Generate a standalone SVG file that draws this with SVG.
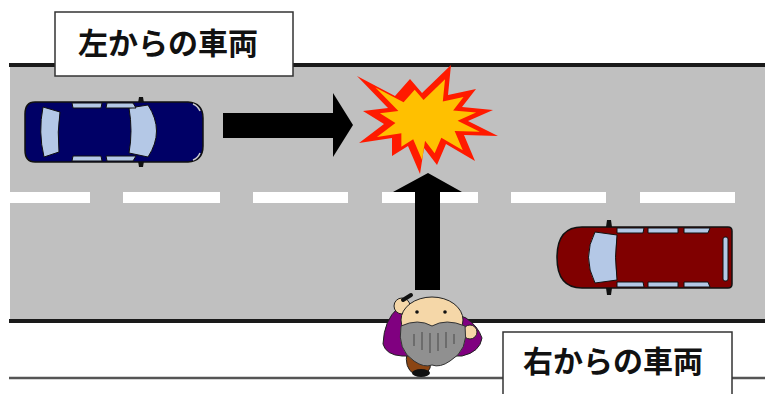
<svg xmlns="http://www.w3.org/2000/svg" width="765" height="394" viewBox="0 0 765 394">
<style>
.label rect{fill:#fff;stroke:#333;stroke-width:1.5}
.label text{font-family:"Noto Sans CJK JP","Noto Sans CJK SC",sans-serif;font-size:30px;fill:#111;font-weight:600}
.win{fill:#b4c8e6;stroke:#111;stroke-width:1}
.edge{stroke:#111;stroke-width:1.5}
.arrow{fill:#000}
.dash{fill:#fff}
</style>
<rect width="765" height="394" fill="#fff"/>
<g id="road">
  <rect x="10" y="65" width="755" height="256" fill="#c0c0c0"/>
  <line x1="9" y1="65" x2="765" y2="65" stroke="#1a1a1a" stroke-width="4"/>
  <line x1="9" y1="321" x2="765" y2="321" stroke="#1a1a1a" stroke-width="4"/>
  <line x1="9" y1="378" x2="765" y2="378" stroke="#555" stroke-width="2.5"/>
  <g class="dash">
    <rect x="10" y="192" width="80" height="11"/>
    <rect x="123" y="192" width="97" height="11"/>
    <rect x="253" y="192" width="95" height="11"/>
    <rect x="382" y="192" width="96" height="11"/>
    <rect x="511" y="192" width="95" height="11"/>
    <rect x="640" y="192" width="95" height="11"/>
  </g>
</g>
<g id="car-left">
  <path d="M139,97 h4 l1,6 h-6 z M139,167 h4 l1,-6 h-6 z" fill="#111"/>
  <path class="edge" d="M35,102 H188 Q203,103 203,118 V146 Q203,161 188,162 H35 Q25,162 25,150 V114 Q25,102 35,102 Z" fill="#000066"/>
  <path class="win" d="M43,107 L60,112 Q57,132 59,152 L44,157 Q38,132 43,107 Z"/>
  <path class="win" d="M129,108 L148,105 Q165,131 148,157 L129,153 Q133,131 129,108 Z"/>
  <path class="win" d="M72,103 H102 L101,108 H73 Z M107,103 H133 L136,108 H106 Z"/>
  <path class="win" d="M72,161 H102 L101,156 H73 Z M107,161 H133 L136,156 H106 Z"/>
  <path d="M193,104 q5,2 7,7 M193,160 q5,-2 7,-7" stroke="#ccc" stroke-width="1.5" fill="none"/>
</g>
<g id="car-right">
  <path d="M607,220 h4 l1,7 h-6 z M607,295 h4 l1,-7 h-6 z" fill="#111"/>
  <path class="edge" d="M582,227 H728 Q732,227 732,231 V284 Q732,288 728,288 H582 Q557,288 557,257.5 Q557,227 582,227 Z" fill="#800000"/>
  <path class="win" d="M595,232 L617,235 Q614,257 617,280 L595,283 Q582,257 595,232 Z"/>
  <path class="win" d="M617,228 H644 L643,233 H617 Z M648,228 H678 V233 H648 Z M684,228 H710 L708,233 H684 Z"/>
  <path class="win" d="M617,287 H644 L643,282 H617 Z M648,287 H678 V282 H648 Z M684,287 H710 L708,282 H684 Z"/>
  <rect class="win" x="723" y="237" width="5" height="44" rx="2"/>
</g>
<g id="explosion">
  <polygon fill="#ff1a00" points="357,76 395,96 410,79 422,93 451,65 448,95 476,89 462,107 493,110 468,121 498,136 464,135 475,161 446,144 437,165 424,148 420,174 408,146 392,156 392,138 359,143 384,124 363,111 388,108"/>
  <polygon fill="#ffc000" transform="translate(428,120) scale(0.74) translate(-428,-120)" points="357,76 395,96 410,79 422,93 451,65 448,95 476,89 462,107 493,110 468,121 498,136 464,135 475,161 446,144 437,165 424,148 420,174 408,146 392,156 392,138 359,143 384,124 363,111 388,108"/>
</g>
<g id="person">
  <path d="M407,352 Q404,368 414,374 Q426,378 430,368 L432,352 Z" fill="#8b4513" stroke="#222" stroke-width="1"/>
  <ellipse cx="421" cy="373" rx="9" ry="4" fill="#111"/>
  <path d="M398,308 Q384,320 383,344 Q386,355 402,356 L462,356 Q480,352 482,338 Q478,326 466,318 Q440,306 410,306 Z" fill="#800080" stroke="#222" stroke-width="1"/>
  <circle cx="402" cy="306" r="8" fill="#f5d7a8" stroke="#222" stroke-width="1"/>
  <path d="M403,300 L411,295" stroke="#111" stroke-width="4" stroke-linecap="round"/>
  <circle cx="470" cy="332" r="7" fill="#f5d7a8" stroke="#222" stroke-width="1"/>
  <ellipse cx="432" cy="320" rx="31" ry="23" fill="#f5d7a8" stroke="#222" stroke-width="1"/>
  <path d="M401,326 Q418,318 432,326 Q446,318 465,326 Q469,350 450,361 Q440,368 432,365 Q424,368 414,361 Q397,350 401,326 Z" fill="#909090" stroke="#333" stroke-width="1"/>
  <path d="M414,334 v12 M422,332 v18 M430,333 v20 M438,333 v18 M446,332 v16 M454,334 v10" stroke="#555" stroke-width="1.2"/>
  <circle cx="417" cy="312" r="1.8" fill="#111"/>
  <circle cx="445" cy="312" r="1.8" fill="#111"/>
</g>
<g id="connectors">
  <polygon class="arrow" points="223,113 333,113 333,93 353,125 333,157 333,138 223,138"/>
  <polygon class="arrow" points="415,290 415,192 393,192 428,173 462,192 440,192 440,290"/>
</g>
<g id="label-left" class="label">
  <rect x="55" y="12" width="238" height="64"/>
  <text x="78" y="54">左からの車両</text>
</g>
<g id="label-right" class="label">
  <rect x="503" y="332" width="229" height="70"/>
  <text x="523" y="372">右からの車両</text>
</g>
</svg>
